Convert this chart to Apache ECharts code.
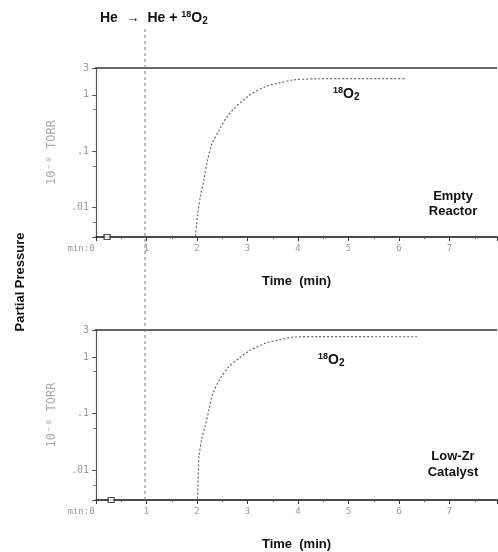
<!DOCTYPE html>
<html>
<head>
<meta charset="utf-8">
<script src="https://cdn.jsdelivr.net/npm/echarts@6/dist/echarts.min.js"></script>
<style>
  html, body { margin: 0; padding: 0; background: #fff; }
  #chart { width: 498px; height: 552px; }
</style>
</head>
<body>
<div id="chart"></div>
<script>
// switch time He -> He + 18O2 (min)
const switchTime = 0.97;

// He baseline (saturated, at top of scale)
const heTime = [-0.12, 7.94];
const heLevel = [3, 3];

// 18O2 signal, empty reactor
const timeEmpty = [1.97, 2.01, 2.07, 2.14, 2.20, 2.30, 2.44, 2.62, 3.00, 3.36, 3.62, 3.92, 4.40, 5.00, 5.60, 6.14];
const o2Empty = [0.0031, 0.0072, 0.0164, 0.0326, 0.064, 0.137, 0.237, 0.44, 0.93, 1.41, 1.62, 1.85, 1.93, 1.95, 1.95, 1.95];

// 18O2 signal, low-Zr catalyst
const timeLowZr = [2.01, 2.03, 2.04, 2.10, 2.17, 2.24, 2.30, 2.44, 2.63, 2.83, 3.06, 3.36, 3.62, 3.92, 4.40, 5.00, 5.60, 6.36];
const o2LowZr = [0.0032, 0.011, 0.018, 0.038, 0.065, 0.121, 0.21, 0.39, 0.67, 0.95, 1.33, 1.76, 2.01, 2.25, 2.30, 2.30, 2.28, 2.28];

// pen marker near origin
const markTime = [0.22, 0.3];
const markLevel = 0.003;

// axis ticks
const xTicks = [0, 1, 2, 3, 4, 5, 6, 7];
const yTickLabels = { 3: '3', 1: '1', 0.1: '.1', 0.01: '.01' };

const zip = (xs, ys) => xs.map((x, i) => [x, ys[i]]);

function yFmt(v) {
    for (const k in yTickLabels) {
        if (Math.abs(v / Number(k) - 1) < 0.01) return yTickLabels[k];
    }
    return '';
}
function xFmt(v) {
    if (v === 0) return '{m|min:0}';
    return xTicks.indexOf(v) >= 0 ? String(v) : '';
}

const labelFont = 'DejaVu Sans Mono';
const boldFont = 'Liberation Sans';

function xAxisFor(idx) {
    return {
        type: 'value', gridIndex: idx, min: 0, max: 7.94, interval: 1,
        name: 'Time  (min)', nameLocation: 'middle', nameGap: 38,
        nameTextStyle: { fontFamily: boldFont, fontWeight: 'bold', fontSize: 13, color: '#111' },
        axisLine: { show: true, lineStyle: { color: '#111', width: 1.6 } },
        axisTick: { show: true, length: 4, lineStyle: { color: '#333' } },
        minorTick: { show: true, splitNumber: 2, length: 2, lineStyle: { color: '#555' } },
        splitLine: { show: false },
        axisLabel: {
            formatter: xFmt, color: '#999', fontFamily: labelFont, fontSize: 9, margin: 7,
            showMaxLabel: false,
            rich: { m: { color: '#999', fontFamily: labelFont, fontSize: 9, padding: [0, 30, 0, 0] } }
        }
    };
}
function yAxisFor(idx) {
    return {
        type: 'log', gridIndex: idx, min: 0.003, max: 3, logBase: 10,
        name: '10⁻⁸ TORR', nameLocation: 'middle', nameGap: 38, nameRotate: 90,
        nameTextStyle: { fontFamily: labelFont, fontSize: 12, color: '#aaa' },
        axisLine: { show: true, lineStyle: { color: '#555', width: 1.2 } },
        axisTick: { show: true, length: 4, lineStyle: { color: '#555' } },
        minorTick: { show: true, splitNumber: 2, length: 3, lineStyle: { color: '#777' } },
        splitLine: { show: false },
        axisLabel: { formatter: yFmt, color: '#999', fontFamily: labelFont, fontSize: 10, margin: 7 }
    };
}

function panelSeries(idx, times, values, markT) {
    return [
        {
            type: 'line', xAxisIndex: idx, yAxisIndex: idx, data: zip(heTime, heLevel),
            symbol: 'none', clip: false, silent: true,
            lineStyle: { color: '#333', width: 1.5 }
        },
        {
            type: 'line', xAxisIndex: idx, yAxisIndex: idx, data: zip(times, values),
            symbol: 'none', smooth: 0.3, silent: true,
            lineStyle: { color: '#666', width: 1.2, type: [2, 2] }
        },
        {
            type: 'scatter', xAxisIndex: idx, yAxisIndex: idx, data: [[markT, markLevel]],
            symbol: 'rect', symbolSize: [6, 5], clip: false, silent: true,
            itemStyle: { color: '#fff', borderColor: '#222', borderWidth: 1.2 }
        }
    ];
}

const sup = { fontFamily: boldFont, fontWeight: 'bold', fontSize: 9, verticalAlign: 'top', padding: [0, 0, 6, 0], fill: '#111' };
const sub = { fontFamily: boldFont, fontWeight: 'bold', fontSize: 10, padding: [6, 0, 0, 0], fill: '#111' };
const big = { fontFamily: boldFont, fontWeight: 'bold', fontSize: 14, fill: '#111' };

const chart = echarts.init(document.getElementById('chart'), null, { renderer: 'canvas' });
const option = {
    animation: false,
    backgroundColor: '#fff',
    grid: [
        { left: 96, top: 68, width: 401, height: 169, outerBoundsMode: 'none' },
        { left: 96, top: 330, width: 401, height: 170, outerBoundsMode: 'none' },
        { left: 96, top: 28, width: 401, height: 472, outerBoundsMode: 'none' }
    ],
    xAxis: [
        xAxisFor(0),
        xAxisFor(1),
        { type: 'value', gridIndex: 2, min: 0, max: 7.94, show: false }
    ],
    yAxis: [
        yAxisFor(0),
        yAxisFor(1),
        { type: 'value', gridIndex: 2, min: 0, max: 1, show: false }
    ],
    series: [
        ...panelSeries(0, timeEmpty, o2Empty, markTime[0]),
        ...panelSeries(1, timeLowZr, o2LowZr, markTime[1]),
        {
            type: 'line', xAxisIndex: 2, yAxisIndex: 2,
            data: [[switchTime, 0], [switchTime, 1]],
            symbol: 'none', silent: true,
            lineStyle: { color: '#777', width: 1, type: [3, 3] }
        }
    ],
    graphic: [
        {
            type: 'text', left: 100, top: 10,
            style: {
                text: '{b|He  →  He + }{s|18}{b|O}{d|2}',
                rich: { b: big, s: sup, d: sub }
            }
        },
        {
            type: 'text', x: 20, y: 282, rotation: Math.PI / 2,
            style: {
                text: 'Partial Pressure', align: 'center', verticalAlign: 'middle',
                fontFamily: boldFont, fontWeight: 'bold', fontSize: 13, fill: '#111'
            }
        },
        {
            type: 'text', x: 333, y: 86,
            style: { text: '{s|18}{b|O}{d|2}', rich: { b: big, s: sup, d: sub } }
        },
        {
            type: 'text', x: 318, y: 352,
            style: { text: '{s|18}{b|O}{d|2}', rich: { b: big, s: sup, d: sub } }
        },
        {
            type: 'text', x: 453, y: 189,
            style: {
                text: 'Empty\nReactor', align: 'center', lineHeight: 15,
                fontFamily: boldFont, fontWeight: 'bold', fontSize: 13, fill: '#111'
            }
        },
        {
            type: 'text', x: 453, y: 448,
            style: {
                text: 'Low-Zr\nCatalyst', align: 'center', lineHeight: 16,
                fontFamily: boldFont, fontWeight: 'bold', fontSize: 13, fill: '#111'
            }
        }
    ]
};
chart.setOption(option);
window.addEventListener('resize', function () {
    chart.resize();
});
</script>
</body>
</html>
